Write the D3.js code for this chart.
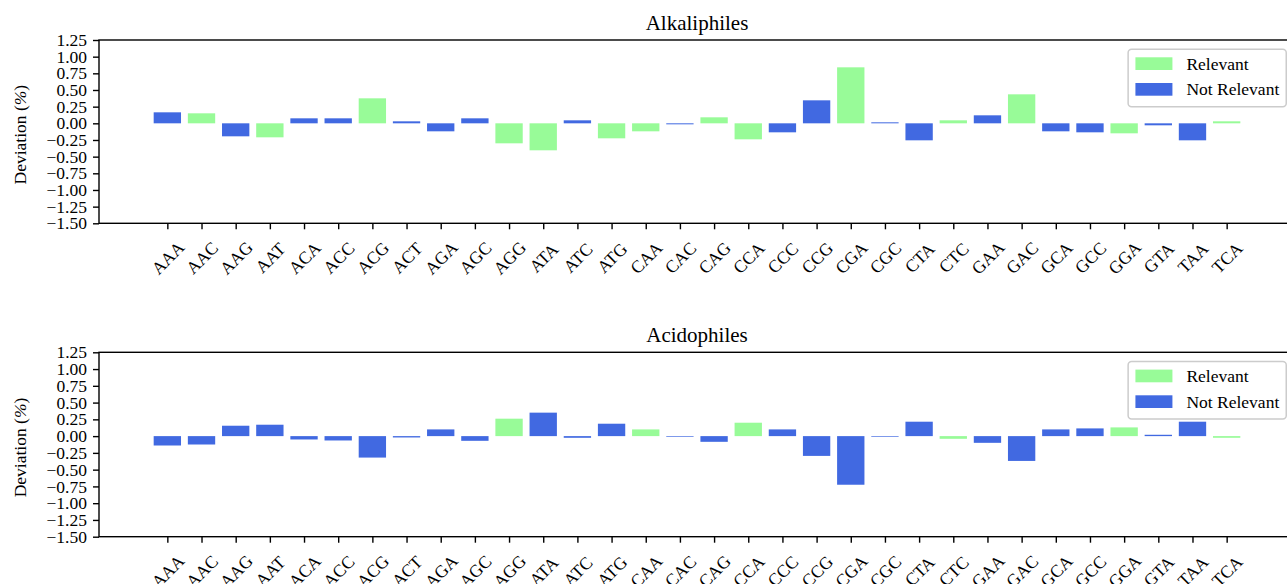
<!DOCTYPE html>
<html>
<head>
<meta charset="utf-8">
<script src="https://cdn.jsdelivr.net/npm/d3@7"></script>
<style>
  body { margin: 0; background: #fff; }
  svg { display: block; font-family: "Liberation Serif", "DejaVu Serif", serif; }
</style>
</head>
<body>
<div id="chart"></div>
<script>
// codons on the x axis
const codons = ["AAA", "AAC", "AAG", "AAT", "ACA", "ACC", "ACG", "ACT", "AGA", "AGC", "AGG", "ATA",
    "ATC", "ATG", "CAA", "CAC", "CAG", "CCA", "CCC", "CCG", "CGA", "CGC", "CTA", "CTC",
    "GAA", "GAC", "GCA", "GCC", "GGA", "GTA", "TAA", "TCA"];

// deviation (%) per codon
const alkaliValues = [0.165, 0.15, -0.195, -0.21, 0.075, 0.075, 0.375, 0.03, -0.12, 0.075, -0.30, -0.405,
    0.045, -0.225, -0.12, -0.015, 0.09, -0.24, -0.135, 0.345, 0.84, 0.015, -0.255, 0.045,
    0.12, 0.435, -0.12, -0.135, -0.15, -0.03, -0.255, 0.03];
const alkaliRelevant = [0, 1, 0, 1, 0, 0, 1, 0, 0, 0, 1, 1,
    0, 1, 1, 0, 1, 1, 0, 0, 1, 0, 0, 1,
    0, 1, 0, 0, 1, 0, 0, 1];

const acidoValues = [-0.14, -0.125, 0.155, 0.17, -0.05, -0.065, -0.32, -0.02, 0.10, -0.07, 0.26, 0.35,
    -0.025, 0.185, 0.10, -0.01, -0.085, 0.20, 0.10, -0.295, -0.725, -0.01, 0.215, -0.04,
    -0.10, -0.37, 0.10, 0.115, 0.13, 0.02, 0.215, -0.025];
const acidoRelevant = [0, 0, 0, 0, 0, 0, 0, 0, 0, 0, 1, 0,
    0, 0, 1, 0, 0, 1, 0, 0, 0, 0, 0, 1,
    0, 0, 0, 0, 1, 0, 0, 1];

const yTicks = [1.25, 1.00, 0.75, 0.50, 0.25, 0.00, -0.25, -0.50, -0.75, -1.00, -1.25, -1.50];
const yDomain = [-1.5, 1.25];
const legendLabels = ["Relevant", "Not Relevant"];
const colors = { relevant: "#98fb98", other: "#4169e1" };

const width = 1287, height = 584;
const fontSize = 17.5;

const svg = d3.select("#chart").append("svg")
    .attr("width", width)
    .attr("height", height);

svg.append("rect").attr("width", width).attr("height", height).attr("fill", "#fff");

function drawPanel(cfg, values, relevant) {
    const g = svg.append("g");

    // bar positions 0..31, two slots of padding on each side
    const x = d3.scaleLinear().domain([-2, codons.length + 1]).range([cfg.left, cfg.right]);
    const y = d3.scaleLinear().domain(yDomain).range([cfg.bottom, cfg.top]);
    const barW = x(0.8) - x(0);

    const data = codons.map((c, i) => ({ codon: c, i: i, value: values[i], rel: relevant[i] === 1 }));

    // bars
    g.selectAll(".bar")
        .data(data)
        .enter().append("rect")
        .attr("class", "bar")
        .attr("x", d => x(d.i) - barW / 2)
        .attr("y", d => y(Math.max(0, d.value)))
        .attr("width", barW)
        .attr("height", d => Math.abs(y(d.value) - y(0)))
        .attr("fill", d => d.rel ? colors.relevant : colors.other);

    // y axis
    const yAxis = d3.axisLeft(y)
        .tickValues(yTicks)
        .tickSize(6)
        .tickSizeOuter(0)
        .tickPadding(6)
        .tickFormat(d => d3.format(".2f")(d).replace("-", "\u2212"));

    const ya = g.append("g")
        .attr("transform", `translate(${cfg.left},0)`)
        .call(yAxis);
    ya.select(".domain").remove();
    ya.selectAll("line").attr("stroke", "#000").attr("stroke-width", 1.4);
    ya.selectAll("text")
        .attr("font-family", "Liberation Serif")
        .attr("font-size", fontSize)
        .attr("fill", "#000")
        .attr("dy", "0.32em");

    // x axis
    const xAxis = d3.axisBottom(x)
        .tickValues(d3.range(codons.length))
        .tickSize(6)
        .tickSizeOuter(0)
        .tickFormat(i => codons[i]);

    const xa = g.append("g")
        .attr("transform", `translate(0,${cfg.bottom})`)
        .call(xAxis);
    xa.select(".domain").remove();
    xa.selectAll("line").attr("stroke", "#000").attr("stroke-width", 1.4);
    xa.selectAll("text")
        .attr("font-family", "Liberation Serif")
        .attr("font-size", fontSize)
        .attr("fill", "#000")
        .attr("y", 0)
        .attr("dy", null)
        .attr("text-anchor", "middle")
        .attr("dominant-baseline", "central")
        .attr("transform", "translate(0,34.5) rotate(-45)");

    // axes frame (right edge runs past the picture)
    g.append("rect")
        .attr("x", cfg.left)
        .attr("y", cfg.top)
        .attr("width", cfg.right - cfg.left)
        .attr("height", cfg.bottom - cfg.top)
        .attr("fill", "none")
        .attr("stroke", "#000")
        .attr("stroke-width", 1.4);

    // title
    g.append("text")
        .attr("x", (cfg.left + cfg.right) / 2)
        .attr("y", cfg.top - 10)
        .attr("text-anchor", "middle")
        .attr("font-size", 21)
        .text(cfg.title);

    // y label
    const yl = g.append("text")
        .attr("transform", `translate(26,${(cfg.top + cfg.bottom) / 2 + 3}) rotate(-90)`)
        .attr("text-anchor", "middle")
        .attr("font-size", fontSize);
    yl.append("tspan").text("Deviation (");
    yl.append("tspan").attr("font-style", "italic").text("%");
    yl.append("tspan").text(")");

    // legend, upper right
    const lg = g.append("g");
    const frame = lg.append("rect")
        .attr("rx", 3.5)
        .attr("fill", "#fff")
        .attr("fill-opacity", 0.8)
        .attr("stroke", "#cccccc")
        .attr("stroke-width", 1.5);

    const items = lg.selectAll(".item")
        .data(legendLabels)
        .enter().append("g")
        .attr("class", "item");
    items.append("rect")
        .attr("x", 7.3)
        .attr("y", (d, i) => 8 + i * 25.7)
        .attr("width", 37)
        .attr("height", 12.7)
        .attr("fill", (d, i) => i === 0 ? colors.relevant : colors.other);
    items.append("text")
        .attr("x", 58.3)
        .attr("y", (d, i) => 20.4 + i * 25.7)
        .attr("font-size", fontSize)
        .text(d => d);

    let maxText = 0;
    items.selectAll("text").each(function() { maxText = Math.max(maxText, this.getComputedTextLength()); });
    const legW = 58.3 + maxText + 7;
    const legH = 57.4;
    frame.attr("width", legW).attr("height", legH);
    lg.attr("transform", `translate(${cfg.right - 8.75 - legW},${cfg.top + 9.3})`);
}

drawPanel({ title: "Alkaliphiles", left: 99, right: 1295, top: 40, bottom: 223.3 }, alkaliValues, alkaliRelevant);
drawPanel({ title: "Acidophiles", left: 99, right: 1295, top: 352.3, bottom: 536.7 }, acidoValues, acidoRelevant);
</script>
</body>
</html>
